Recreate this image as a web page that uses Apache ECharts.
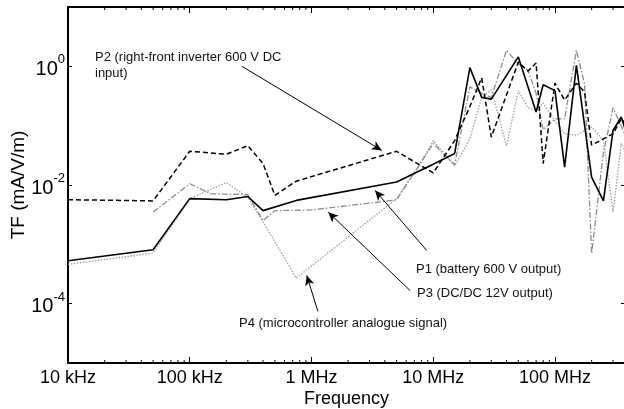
<!DOCTYPE html>
<html>
<head>
<meta charset="utf-8">
<script src="https://cdn.jsdelivr.net/npm/echarts@6/dist/echarts.min.js"></script>
<style>
html,body{margin:0;padding:0;background:#fff;}
#c{width:624px;height:409px;}
</style>
</head>
<body>
<div id="c"></div>
<script>
// ---- data (frequency in Hz, TF in mA/V/m) ----
const p1 = [[1e4,5.3e-4],[5e4,8.1e-4],[1e5,5.9e-3],[2e5,5.65e-3],[3e5,6.4e-3],[4e5,3.7e-3],[7.5e5,5.5e-3],[5e6,1.12e-2],[1e7,2.24e-2],[1.5e7,3.4e-2],[2e7,0.95],[2.5e7,0.30],[3e7,0.28],[5e7,1.44],[7e7,0.17],[8e7,0.49],[1e8,0.39],[1.2e8,0.020],[1.5e8,1.04],[2e8,0.0136],[2.5e8,5.4e-3],[3e8,0.083],[3.5e8,0.14],[4e8,0.06]];
const p2 = [[1e4,5.65e-3],[5e4,5.4e-3],[1e5,3.7e-2],[2e5,3.3e-2],[3e5,4.6e-2],[4e5,2.3e-2],[5e5,6.7e-3],[7.5e5,1.16e-2],[5e6,3.7e-2],[1e7,1.6e-2],[1.5e7,0.056],[2e7,0.21],[2.5e7,0.64],[3e7,0.064],[5e7,1.18],[6e7,0.83],[7e7,1.14],[8e7,0.023],[1e8,0.52],[1.2e8,0.27],[1.5e8,0.52],[1.75e8,0.37],[2e8,0.047],[3e8,0.073],[3.5e8,0.13],[4e8,0.1]];
const p3 = [[5e4,3.5e-3],[1e5,1.05e-2],[1.5e5,7.1e-3],[3e5,6.9e-3],[4e5,2.5e-3],[5e5,3.7e-3],[1e6,3.8e-3],[5e6,5.6e-3],[7.5e6,0.02],[1e7,0.05],[1.5e7,0.022],[2e7,0.45],[2.5e7,0.35],[3e7,0.3],[4e7,1.86],[5e7,1.1],[6e7,0.86],[7e7,0.35],[8e7,0.085],[1e8,0.13],[1.2e8,0.13],[1.5e8,1.86],[1.75e8,0.5],[2e8,7e-4],[2.5e8,0.035],[3e8,0.2],[3.5e8,0.1],[4e8,0.05]];
const p4 = [[1e4,4.6e-4],[5e4,7.1e-4],[1e5,5.9e-3],[2e5,1.1e-2],[3e5,6.2e-3],[4e5,2.4e-3],[7.5e5,2.7e-4],[5e6,5.9e-3],[7.5e6,0.02],[1e7,0.056],[1.5e7,0.021],[2e7,0.06],[2.5e7,0.3],[3e7,0.4],[4e7,0.046],[5e7,0.39],[6e7,0.2],[7e7,0.18],[8e7,0.24],[1e8,0.12],[1.2e8,0.073],[1.5e8,0.069],[2e8,0.095],[2.5e8,0.056],[3e8,3.5e-3],[3.5e8,0.05],[4e8,0.03]];
const xTickLabels = {4:'10 kHz',5:'100 kHz',6:'1 MHz',7:'10 MHz',8:'100 MHz'};
const seriesNames = ['P1','P2','P3','P4'];
const annotations = [
  {text:'P2 (right-front inverter 600 V DC\ninput)', from:[2.685e5,1.0], to:[3.78e6,0.0383]},
  {text:'P1 (battery 600 V output)', from:[8.83e6,7.9e-4], to:[3.33e6,8.1e-3]},
  {text:'P3 (DC/DC 12V output)', from:[6.44e6,1.67e-4], to:[1.374e6,3.49e-3]},
  {text:'P4 (microcontroller analogue signal)', from:[1.13e6,7.4e-5], to:[9.14e5,2.99e-4]}
];
// ---- layout ----
const X_MIN = 1e4, X_MAX = 3.76e8, Y_MIN = 1e-5, Y_MAX = 10;
const FONT = 'Liberation Sans, Arial, sans-serif';

const minorTicks = [];
for (let k = 4; k <= 8; k++) for (let m = 2; m <= 9; m++) { const v = m * Math.pow(10, k); if (v < X_MAX) minorTicks.push([v, 1]); }

const chart = echarts.init(document.getElementById('c'), null, {renderer:'canvas'});
const common = {type:'log', min:X_MIN, max:X_MAX, logBase:10};
const yLabel = {
  fontFamily: FONT, color:'#000', margin: 3,
  formatter: function(v){
    const l = Math.log10(v), e = Math.round(l);
    if (Math.abs(l - e) > 0.01 || e % 2 !== 0 || e <= -5 || e >= 1) return '';
    return '{b|10}{s|' + e + '}';
  },
  rich: { b:{fontSize:20, fontFamily:FONT, lineHeight:26, verticalAlign:'bottom', color:'#000'},
          s:{fontSize:13, fontFamily:FONT, lineHeight:14, verticalAlign:'top', color:'#000'} }
};
const lineBase = {type:'line', showSymbol:false, symbol:'none', animation:false, clip:true};
const option = {
  animation:false,
  backgroundColor:'#fff',
  grid:{left:68, top:7, width:557, height:356, containLabel:false, outerBoundsMode:'none'},
  xAxis:[
    Object.assign({}, common, {position:'bottom', name:'Frequency', nameLocation:'middle', nameGap:27, nameMoveOverlap:false,
      nameTextStyle:{fontSize:18, fontFamily:FONT, color:'#000'},
      axisLine:{show:true, lineStyle:{color:'#000', width:2}},
      axisTick:{show:true, inside:true, length:6, lineStyle:{color:'#000', width:1}},
      axisLabel:{show:true, fontSize:18, fontFamily:FONT, color:'#000', margin:6, showMaxLabel:false, hideOverlap:false,
        formatter:function(v){ const l=Math.log10(v), e=Math.round(l); return Math.abs(l-e)<0.01 && xTickLabels[e] ? xTickLabels[e] : ''; }},
      splitLine:{show:false}}),
    Object.assign({}, common, {position:'top',
      axisLine:{show:true, lineStyle:{color:'#000', width:2}},
      axisTick:{show:true, inside:true, length:6, lineStyle:{color:'#000', width:1}},
      axisLabel:{show:false}, splitLine:{show:false}})
  ],
  yAxis:[
    {type:'log', logBase:100, min:Y_MIN, max:Y_MAX, splitNumber:3, position:'left',
      name:'TF (mA/V/m)', nameLocation:'middle', nameGap:40, nameRotate:90, nameMoveOverlap:false,
      nameTextStyle:{fontSize:19, fontFamily:FONT, color:'#000'},
      axisLine:{show:true, lineStyle:{color:'#000', width:2}},
      axisTick:{show:true, inside:true, length:4, lineStyle:{color:'#000', width:1}},
      axisLabel:yLabel, splitLine:{show:false}},
    {type:'log', logBase:100, min:Y_MIN, max:Y_MAX, splitNumber:3, position:'right',
      axisLine:{show:true, lineStyle:{color:'#000', width:2}},
      axisTick:{show:true, inside:true, length:4, lineStyle:{color:'#000', width:1}},
      axisLabel:{show:false}, splitLine:{show:false}}
  ],
  series:[
    Object.assign({}, lineBase, {name:seriesNames[3], data:p4, z:2, lineStyle:{color:'#a0a0a0', width:1.3, type:[1.5,1.5]}}),
    Object.assign({}, lineBase, {name:seriesNames[2], data:p3, z:3, lineStyle:{color:'#8c8c8c', width:1.3, type:[6,2,1.5,2]}}),
    Object.assign({}, lineBase, {name:seriesNames[1], data:p2, z:4, lineStyle:{color:'#000', width:1.5, type:[5,3]}}),
    Object.assign({}, lineBase, {name:seriesNames[0], data:p1, z:5, lineStyle:{color:'#000', width:1.6, type:'solid'},
      markLine:{silent:true, animation:false, symbol:['none','arrow'], symbolSize:[7,10],
        lineStyle:{color:'#000', width:1, type:'solid'}, label:{show:false},
        data: annotations.map(a => [{coord:a.from}, {coord:a.to}])}}),
    {type:'custom', name:'minorTicks', data:minorTicks, silent:true, animation:false, z:6,
      renderItem:function(params, api){
        const cs = params.coordSys;
        const x = api.coord([api.value(0), 1])[0];
        const st = {stroke:'#000', lineWidth:1};
        return {type:'group', children:[
          {type:'line', shape:{x1:x, y1:cs.y+cs.height, x2:x, y2:cs.y+cs.height-3}, style:st},
          {type:'line', shape:{x1:x, y1:cs.y, x2:x, y2:cs.y+3}, style:st}
        ]};
      }}
  ],
  graphic:[
    {type:'text', left:95, top:49, style:{text:annotations[0].text, font:'13px '+FONT, fill:'#111', lineHeight:16}},
    {type:'text', left:416, top:261, style:{text:annotations[1].text, font:'13px '+FONT, fill:'#111', lineHeight:16}},
    {type:'text', left:417, top:285, style:{text:annotations[2].text, font:'13px '+FONT, fill:'#111', lineHeight:16}},
    {type:'text', left:239, top:315, style:{text:annotations[3].text, font:'13px '+FONT, fill:'#111', lineHeight:16}}
  ]
};
chart.setOption(option);
</script>
</body>
</html>
